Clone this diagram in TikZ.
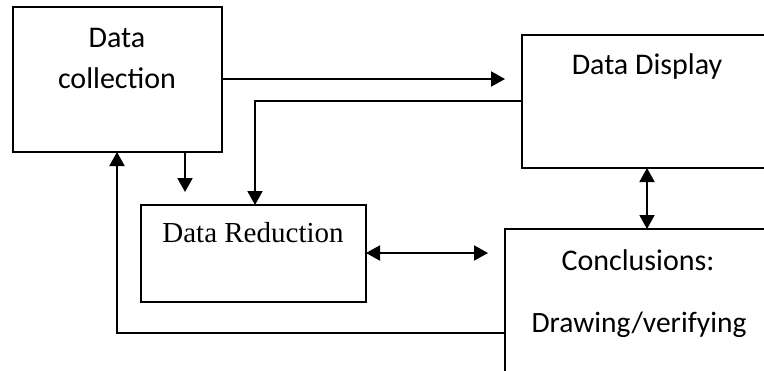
\documentclass[tikz,border=0pt]{standalone}
\usepackage{fontspec}
\setmainfont{Carlito}
\newfontfamily\timesfont{Liberation Serif}
\usetikzlibrary{arrows.meta}
\begin{document}
\begin{tikzpicture}[x=1pt,y=-1pt,
  box/.style={draw,line width=2pt,inner sep=0pt,outer sep=0pt,anchor=north west},
  lbl/.style={inner sep=0pt,align=center,font=\fontsize{30}{41}\selectfont},
  conn/.style={line width=1.9pt,-{Triangle[length=14pt,width=15pt]}},
  dconn/.style={line width=1.9pt,{Triangle[length=14pt,width=15pt]}-{Triangle[length=14pt,width=15pt]}}]
\useasboundingbox (0,0) rectangle (764,370);
\clip (0,0) rectangle (764,370);
% boxes
\node[box,minimum width=209pt,minimum height=145pt] (dc) at (13,7) {};
\node[box,minimum width=300pt,minimum height=133pt] (dd) at (522,35) {};
\node[box,minimum width=225pt,minimum height=97pt] (dr) at (141,205) {};
\node[box,minimum width=300pt,minimum height=200pt] (cc) at (505,229) {};
% texts
\node[lbl] (dct) at (117,58) {Data\\collection};
\node[lbl] (ddt) at (647,66) {Data Display};
\node[lbl,font=\fontsize{29}{35}\timesfont] (drt) at (253,233) {Data Reduction};
\node[lbl] (cct1) at (638,260) {Conclusions:};
\node[lbl,font=\fontsize{29.5}{41}\selectfont] (cct2) at (639,325) {Drawing/verifying};
% connectors
\coordinate (a1) at (505,79);
\draw[conn] (dc.east |- a1) -- (a1);
\coordinate (b1) at (255,101);
\draw[conn] (dd.west |- b1) -- (b1) -- (b1 |- dr.north);
\coordinate (c1) at (185,192);
\draw[conn] (c1 |- dc.south) -- (c1);
\coordinate (d1) at (488,253);
\draw[dconn] (dr.east |- d1) -- (d1);
\draw[dconn] (647,168) -- (647,229);
\coordinate (e1) at (117,333);
\draw[conn] (cc.west |- e1) -- (e1) -- (e1 |- dc.south);
\end{tikzpicture}
\end{document}
